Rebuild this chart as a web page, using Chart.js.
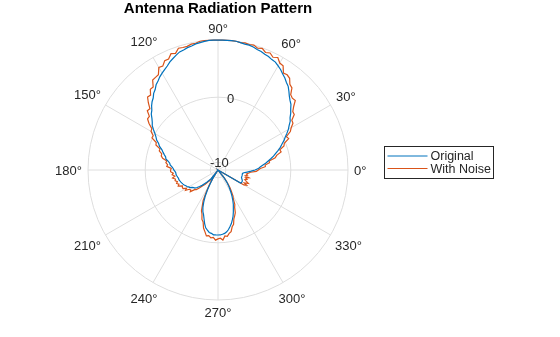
<!DOCTYPE html>
<html>
<head>
<meta charset="utf-8">
<title>Antenna Radiation Pattern</title>
<script src="https://cdn.jsdelivr.net/npm/chart.js@4.4.1/dist/chart.umd.min.js"></script>
<style>
  html, body { margin: 0; padding: 0; background: #fff; }
  #wrap { width: 560px; height: 337px; }
</style>
</head>
<body>
<div id="wrap"><canvas id="patternChart" width="560" height="337"></canvas></div>
<script>
// Gain in dB, sampled every 2 degrees counter-clockwise starting at 0 deg
const STEP = 2;
const originalGain = [
  -5.5, -5.0, -4.7, -4.3, -3.8, -3.4, -2.9, -2.4, -2.0, -1.5,
  -1.0, -0.6, -0.1, 0.3, 0.8, 1.3, 1.7, 2.2, 2.5, 3.0,
  3.4, 3.9, 4.2, 4.6, 5.1, 5.6, 5.9, 6.3, 6.6, 7.0,
  7.3, 7.6, 7.7, 7.9, 8.0, 8.2, 8.3, 8.5, 8.6, 8.6,
  8.7, 8.8, 8.8, 8.8, 8.8, 8.8, 8.8, 8.8, 8.7, 8.6,
  8.5, 8.3, 8.2, 8.0, 7.9, 7.6, 7.3, 7.0, 6.6, 6.3,
  6.0, 5.7, 5.3, 5.0, 4.5, 4.2, 3.7, 3.4, 3.0, 2.5,
  2.2, 1.7, 1.3, 1.0, 0.5, 0.0, -0.4, -0.7, -1.2, -1.5,
  -2.0, -2.3, -2.6, -2.9, -3.0, -3.4, -3.7, -3.8, -4.1, -4.3,
  -4.4, -4.6, -4.7, -4.7, -4.8, -4.9, -5.0, -5.0, -5.1, -5.2,
  -5.3, -5.4, -5.5, -5.7, -5.8, -6.0, -6.1, -6.4, -6.6, -6.7,
  -7.0, -7.4, -7.8, -8.3, -8.7, -9.2, -9.5, -11.2, -11.2, -9.8,
  -8.9, -7.8, -6.7, -5.8, -5.0, -4.4, -4.0, -3.4, -2.7, -2.1,
  -1.8, -1.5, -1.4, -1.2, -1.2, -1.2, -1.2, -1.3, -1.4, -1.6,
  -1.9, -2.3, -2.7, -3.2, -3.7, -4.3, -4.9, -5.4, -6.0, -6.6,
  -7.2, -7.8, -8.3, -8.9, -9.7, -11.2, -11.2, -11.2, -11.2, -11.2,
  -11.2, -11.2, -11.2, -11.2, -11.2, -7.2, -7.1, -7.1, -7.1, -7.2,
  -7.3, -7.4, -7.4, -7.4, -7.4, -7.4, -7.4, -7.2, -6.7, -6.1
];
const noisyGain = [
  -5.0, -4.7, -3.9, -3.9, -3.2, -3.2, -2.2, -1.9, -1.1, -1.2,
  -0.4, -0.2, 0.7, 0.5, 1.4, 1.8, 2.4, 2.5, 3.3, 3.4,
  4.0, 4.8, 4.7, 4.9, 5.8, 6.0, 6.7, 6.9, 6.8, 7.7,
  7.8, 8.4, 8.1, 8.5, 8.3, 8.7, 8.5, 8.8, 8.7, 8.8,
  8.7, 8.8, 8.8, 8.8, 8.8, 8.8, 8.8, 8.8, 8.8, 8.8,
  8.6, 8.6, 8.4, 8.4, 8.5, 7.9, 8.1, 7.5, 7.5, 6.9,
  7.0, 6.1, 6.0, 5.9, 5.0, 5.0, 4.3, 4.4, 3.7, 2.9,
  3.0, 2.2, 2.2, 1.6, 0.8, 0.7, 0.1, 0.1, -0.8, -0.9,
  -1.7, -1.7, -2.2, -2.2, -2.5, -3.2, -3.1, -3.4, -3.3, -4.0,
  -3.9, -3.9, -4.3, -4.1, -4.5, -4.1, -4.5, -4.4, -4.7, -4.5,
  -4.8, -4.6, -5.2, -5.1, -5.1, -5.6, -5.3, -5.9, -6.0, -5.8,
  -6.5, -6.7, -7.2, -7.9, -8.2, -8.9, -9.1, -11.2, -11.2, -9.5,
  -8.4, -7.4, -6.0, -5.3, -4.4, -4.0, -3.2, -2.9, -2.0, -1.5,
  -0.9, -1.0, -0.7, -0.8, -0.4, -0.6, -0.7, -0.4, -1.0, -0.9,
  -1.3, -1.5, -2.2, -2.5, -3.3, -3.7, -4.1, -4.9, -5.3, -6.2,
  -6.6, -7.3, -7.9, -8.6, -9.5, -11.2, -11.2, -11.2, -11.2, -11.2,
  -11.2, -11.2, -11.2, -11.2, -11.2, -6.6, -6.2, -6.7, -6.1, -6.5,
  -6.8, -6.5, -6.8, -6.3, -6.9, -6.6, -6.8, -6.5, -6.2, -5.3
];
const seriesNames = ['Original', 'With Noise'];
const seriesColors = ['#0072BD', '#D95319'];

// Polar axes settings
const R_MIN = -11.2;
const R_MAX = 8.8;
const rTicks = [-10, 0];
const rTickAngle = 80;
const angleTicks = [0, 30, 60, 90, 120, 150, 180, 210, 240, 270, 300, 330];

const GRID = '#dedede';
const TEXT = '#262626';
const FONT = '"Liberation Sans", Arial, Helvetica, sans-serif';

// Radar goes clockwise from its start angle, the pattern is counter-clockwise,
// so index i of the radar sits at angle -i*STEP
const N = originalGain.length;
const spokeAngle = i => (360 - i * STEP) % 360;
const radarLabels = Array.from({ length: N }, (_, i) => spokeAngle(i));
const toRadar = arr => radarLabels.map((_, i) => arr[(N - i) % N]);

// Tick labels, angle labels and the boxed legend
const polarDecor = {
  id: 'polarDecor',
  afterDatasetsDraw(chart) {
    const scale = chart.scales.r;
    const ctx = chart.ctx;
    const cx = scale.xCenter;
    const cy = scale.yCenter;
    const R = scale.drawingArea;

    ctx.save();
    ctx.font = '13px ' + FONT;
    ctx.fillStyle = TEXT;
    ctx.textAlign = 'center';
    ctx.textBaseline = 'middle';

    angleTicks.forEach(deg => {
      const text = deg + '\u00B0';
      const w = ctx.measureText(text).width;
      const a = deg * Math.PI / 180;
      const d = R + 6 + Math.abs(Math.cos(a)) * w / 2 + Math.abs(Math.sin(a)) * 6;
      ctx.fillText(text, cx + d * Math.cos(a), cy - d * Math.sin(a) + 1);
    });

    const ra = rTickAngle * Math.PI / 180;
    rTicks.forEach(v => {
      const d = scale.getDistanceFromCenterForValue(v);
      ctx.fillText(String(v), cx + d * Math.cos(ra), cy - d * Math.sin(ra) + 1);
    });

    // legend
    const box = { x: 384.5, y: 146.5, w: 109, h: 32 };
    ctx.font = '12.5px ' + FONT;
    ctx.fillStyle = '#fff';
    ctx.fillRect(box.x, box.y, box.w, box.h);
    ctx.strokeStyle = TEXT;
    ctx.lineWidth = 1;
    ctx.strokeRect(box.x, box.y, box.w, box.h);
    ctx.textAlign = 'left';
    chart.data.datasets.forEach((ds, i) => {
      const y = box.y + 9.5 + i * 12.5;
      ctx.strokeStyle = ds.borderColor;
      ctx.beginPath();
      ctx.moveTo(box.x + 3, y);
      ctx.lineTo(box.x + 43, y);
      ctx.stroke();
      ctx.fillStyle = TEXT;
      ctx.fillText(ds.label, box.x + 46, y + 1);
    });
    ctx.restore();
  }
};

new Chart(document.getElementById('patternChart'), {
  type: 'radar',
  data: {
    labels: radarLabels,
    datasets: [
      {
        label: seriesNames[0],
        data: toRadar(originalGain),
        borderColor: seriesColors[0],
        borderWidth: 1.2,
        pointRadius: 0,
        fill: false,
        tension: 0
      },
      {
        label: seriesNames[1],
        data: toRadar(noisyGain),
        borderColor: seriesColors[1],
        borderWidth: 1.2,
        pointRadius: 0,
        fill: false,
        tension: 0
      }
    ]
  },
  options: {
    responsive: false,
    animation: false,
    layout: {
      padding: { left: 88, right: 212, top: 0, bottom: 37 }
    },
    plugins: {
      legend: { display: false },
      tooltip: { enabled: false },
      title: {
        display: true,
        text: 'Antenna Radiation Pattern',
        color: '#000',
        font: { family: FONT, size: 15, weight: 'bold', lineHeight: 1.2 },
        padding: { top: 0, bottom: 22 }
      }
    },
    scales: {
      r: {
        startAngle: 90,
        min: R_MIN,
        max: R_MAX,
        afterBuildTicks: scale => {
          scale.ticks = rTicks.concat([R_MAX]).map(v => ({ value: v }));
        },
        ticks: { display: false },
        pointLabels: { display: false },
        grid: { circular: true, color: GRID, lineWidth: 1 },
        angleLines: {
          display: true,
          color: GRID,
          lineWidth: c => (radarLabels[c.index] % 30 === 0 ? 1 : 0)
        }
      }
    }
  },
  plugins: [polarDecor]
});
</script>
</body>
</html>
